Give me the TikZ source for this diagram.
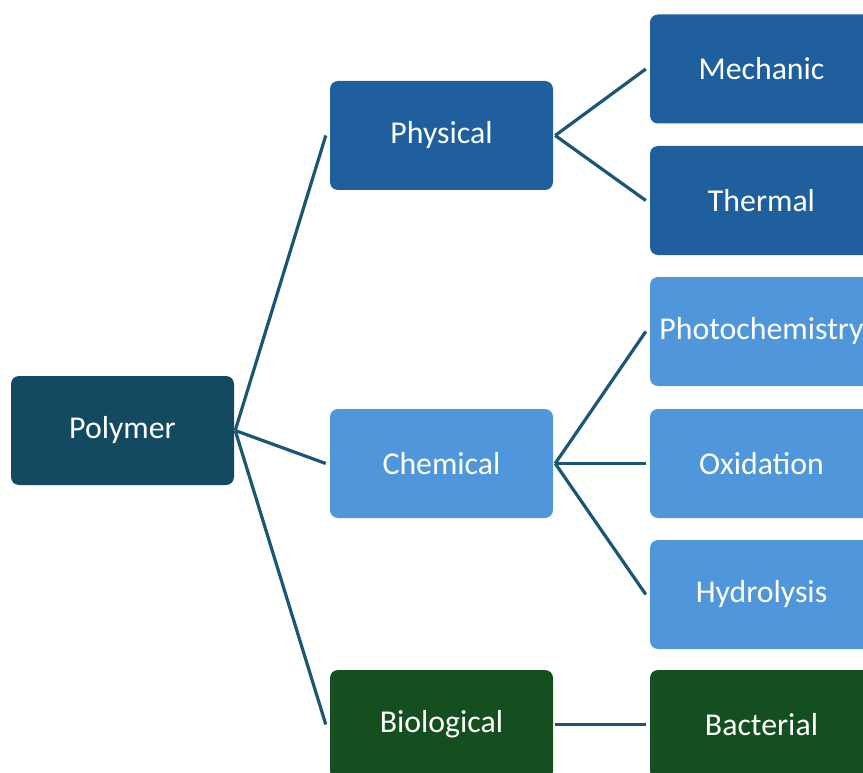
\documentclass[tikz,border=0pt]{standalone}
\usepackage{fontspec}
\setmainfont{Carlito}
\definecolor{cRoot}{HTML}{134A62}
\definecolor{cPhys}{HTML}{1F5F9D}
\definecolor{cChem}{HTML}{4F96DB}
\definecolor{cBio}{HTML}{154F1F}
\definecolor{cLine}{HTML}{1B5673}
\begin{document}
\begin{tikzpicture}[x=1pt,y=-1pt,
  box/.style={rounded corners=8pt,minimum width=223pt,minimum height=109pt,inner sep=0pt,
    text=white,font=\fontsize{31.8}{38}\selectfont},
  conn/.style={draw=cLine,line width=3.2pt}]
\useasboundingbox (0,0) rectangle (863,773);
\clip (0,0) rectangle (863,773);
\node[box,fill=cRoot] (poly) at (122.5,430.5) {Polymer};
\node[box,fill=cPhys] (phys) at (441.5,135.5) {Physical};
\node[box,fill=cChem] (chem) at (441.5,463.5) {Chemical};
\node[box,fill=cBio] (bio) at (441.5,724.5) {Biological};
\node[box,fill=cPhys] (mech) at (761.5,69) {Mechanic};
\node[box,fill=cPhys] (therm) at (761.5,200.5) {Thermal};
\node[box,fill=cChem] (photo) at (761.5,331.5) {Photochemistry};
\node[box,fill=cChem] (oxi) at (761.5,463.5) {Oxidation};
\node[box,fill=cChem] (hydro) at (761.5,594.5) {Hydrolysis};
\node[box,fill=cBio] (bact) at (761.5,724.5) {Bacterial};
\draw[conn] ([xshift=1pt]poly.east) -- ([xshift=-4pt]phys.west);
\draw[conn] ([xshift=1pt]poly.east) -- ([xshift=-4pt]chem.west);
\draw[conn] ([xshift=1pt]poly.east) -- ([xshift=-4pt]bio.west);
\draw[conn] ([xshift=2pt]phys.east) -- ([xshift=-4pt]mech.west);
\draw[conn] ([xshift=2pt]phys.east) -- ([xshift=-4pt]therm.west);
\draw[conn] ([xshift=2pt]chem.east) -- ([xshift=-4pt]photo.west);
\draw[conn] ([xshift=2pt]chem.east) -- ([xshift=-4pt]oxi.west);
\draw[conn] ([xshift=2pt]chem.east) -- ([xshift=-4pt]hydro.west);
\draw[conn] ([xshift=2pt]bio.east) -- ([xshift=-4pt]bact.west);
\end{tikzpicture}
\end{document}
